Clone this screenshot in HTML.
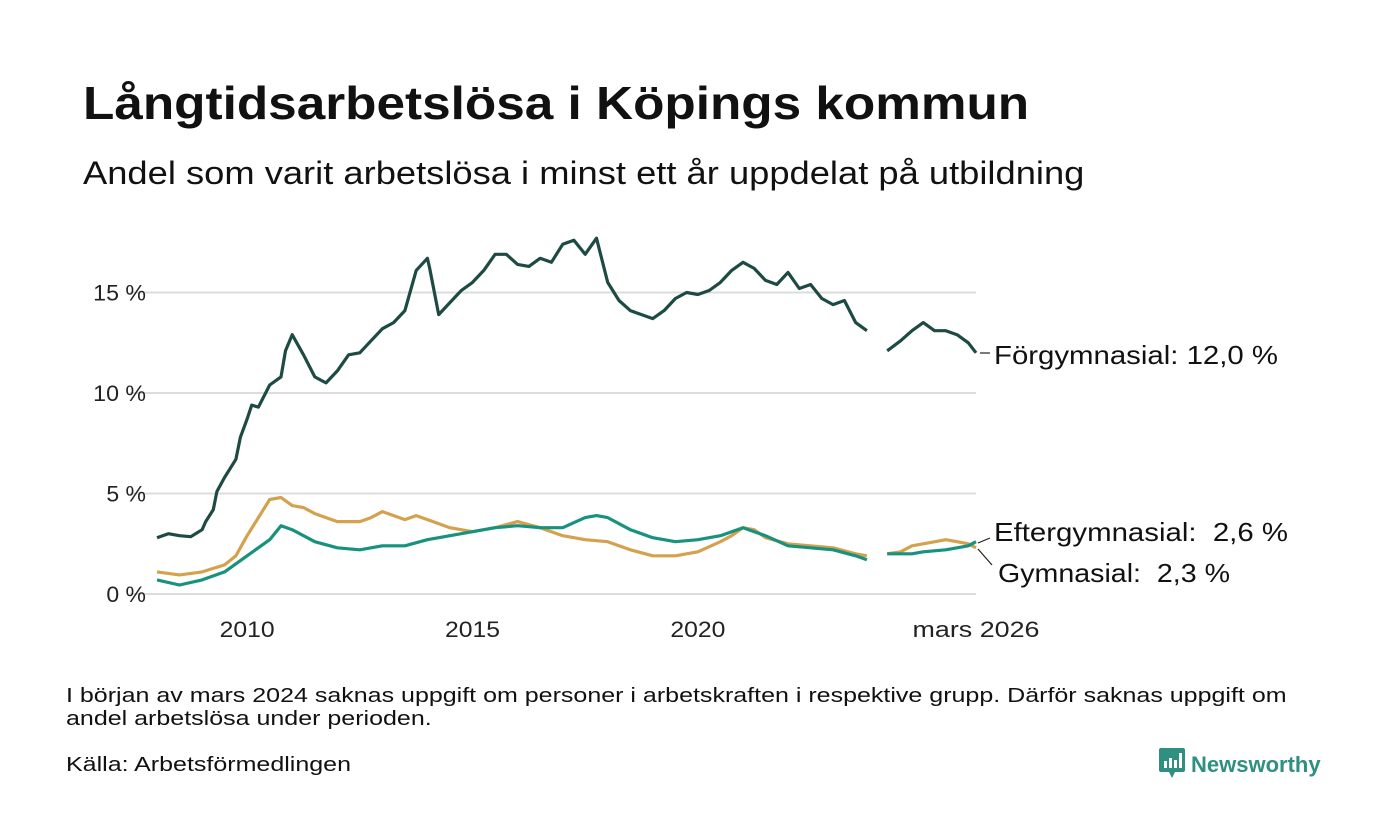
<!DOCTYPE html>
<html><head><meta charset="utf-8"><style>
body{margin:0;background:#fff;font-family:"Liberation Sans","DejaVu Sans",sans-serif;color:#111}
#wrap{position:relative;width:1400px;height:840px;overflow:hidden}
.t{position:absolute;white-space:nowrap;transform-origin:0 0}
</style></head><body><div id="wrap">
<div class="t" style="left:83px;top:76px;font-size:46px;font-weight:bold;transform:scaleX(1.115)">Långtidsarbetslösa i Köpings kommun</div>
<div class="t" style="left:83px;top:155px;font-size:32px;transform:scaleX(1.135)">Andel som varit arbetslösa i minst ett år uppdelat på utbildning</div>
<svg id="chart" width="1400" height="680" style="position:absolute;left:0;top:0"></svg>
<div class="t" style="left:66px;top:684px;font-size:20.5px;line-height:23px;transform:scaleX(1.22)">I början av mars 2024 saknas uppgift om personer i arbetskraften i respektive grupp. Därför saknas uppgift om<br>andel arbetslösa under perioden.</div>
<div class="t" style="left:66px;top:753px;font-size:20.5px;transform:scaleX(1.22)">Källa: Arbetsförmedlingen</div>
<div class="t" style="left:1159px;top:748px;font-size:22px;font-weight:bold;color:#2f8f80">
<svg width="26" height="30" style="vertical-align:-6px;margin-right:6px"><path d="M0 2 Q0 0 2 0 H24 Q26 0 26 2 V22 Q26 24 24 24 H16 L13 30 L10 24 H2 Q0 24 0 22Z" fill="#2f8f80"/><rect x="5" y="13" width="3" height="7" fill="#fff"/><rect x="10" y="10" width="3" height="10" fill="#fff"/><rect x="15" y="12" width="3" height="8" fill="#fff"/><rect x="20" y="5" width="3" height="15" fill="#fff"/></svg>Newsworthy</div>
</div>
<script>
const ticksY=[0,5,10,15];
const ticksYLabels=["0 %","5 %","10 %","15 %"];
const ticksX=[2010,2015,2020,2026.17];
const ticksXLabels=["2010","2015","2020","mars 2026"];
const forgYears=[2008,2008.25,2008.5,2008.75,2009,2009.08,2009.25,2009.33,2009.5,2009.75,2009.85,2010,2010.1,2010.25,2010.5,2010.75,2010.85,2011,2011.25,2011.5,2011.75,2012,2012.25,2012.5,2012.75,2013,2013.25,2013.5,2013.75,2014,2014.05,2014.25,2014.5,2014.75,2015,2015.25,2015.5,2015.75,2016,2016.25,2016.5,2016.75,2017,2017.25,2017.5,2017.75,2018,2018.25,2018.5,2018.75,2019,2019.25,2019.5,2019.75,2020,2020.25,2020.5,2020.75,2021,2021.25,2021.5,2021.75,2022,2022.25,2022.5,2022.75,2023,2023.25,2023.5,2023.75,2023.9,2024.2,2024.5,2024.75,2025,2025.25,2025.5,2025.75,2026,2026.17];
const forgValues=[2.8,3.0,2.9,2.85,3.2,3.6,4.2,5.1,5.8,6.7,7.8,8.7,9.4,9.3,10.4,10.8,12.1,12.9,11.9,10.8,10.5,11.1,11.9,12.0,12.6,13.2,13.5,14.1,16.1,16.7,16.2,13.9,14.5,15.1,15.5,16.1,16.9,16.9,16.4,16.3,16.7,16.5,17.4,17.6,16.9,17.7,15.5,14.6,14.1,13.9,13.7,14.1,14.7,15.0,14.9,15.1,15.5,16.1,16.5,16.2,15.6,15.4,16.0,15.2,15.4,14.7,14.4,14.6,13.5,13.1,null,12.1,12.6,13.1,13.5,13.1,13.1,12.9,12.5,12.0];
const gymYears=[2008,2008.5,2009,2009.5,2009.75,2010,2010.25,2010.5,2010.75,2011,2011.25,2011.5,2011.75,2012,2012.5,2012.75,2013,2013.5,2013.75,2014,2014.5,2015,2015.5,2016,2016.5,2017,2017.5,2018,2018.5,2019,2019.5,2020,2020.5,2020.75,2021,2021.25,2021.5,2022,2022.5,2023,2023.5,2023.75,2023.9,2024.2,2024.5,2024.75,2025,2025.5,2025.75,2026,2026.17];
const gymValues=[1.1,0.95,1.1,1.45,1.9,2.9,3.8,4.7,4.8,4.4,4.3,4.0,3.8,3.6,3.6,3.8,4.1,3.7,3.9,3.7,3.3,3.1,3.3,3.6,3.3,2.9,2.7,2.6,2.2,1.9,1.9,2.1,2.6,2.9,3.3,3.2,2.8,2.5,2.4,2.3,2.0,1.9,null,2.0,2.1,2.4,2.5,2.7,2.6,2.5,2.3];
const eftYears=[2008,2008.5,2009,2009.5,2010,2010.5,2010.75,2011,2011.5,2012,2012.5,2013,2013.5,2014,2014.5,2015,2015.5,2016,2016.5,2017,2017.5,2017.75,2018,2018.5,2019,2019.5,2020,2020.5,2021,2021.5,2022,2022.5,2023,2023.5,2023.75,2023.9,2024.2,2024.75,2025,2025.5,2025.75,2026,2026.17];
const eftValues=[0.7,0.45,0.7,1.1,1.9,2.7,3.4,3.2,2.6,2.3,2.2,2.4,2.4,2.7,2.9,3.1,3.3,3.4,3.3,3.3,3.8,3.9,3.8,3.2,2.8,2.6,2.7,2.9,3.3,2.9,2.4,2.3,2.2,1.9,1.7,null,2.0,2.0,2.1,2.2,2.3,2.4,2.6];
const X0=157,X1=976,XA=2008,XB=2026.17;
const xs=v=>X0+(v-XA)/(XB-XA)*(X1-X0);
const ys=v=>594-v*20.1;
const svg=document.getElementById('chart');
const NS='http://www.w3.org/2000/svg';
function mk(t,a){const e=document.createElementNS(NS,t);for(const k in a)e.setAttribute(k,a[k]);svg.appendChild(e);return e;}
ticksY.forEach((t,i)=>{
 const l=mk('line',{x1:130,x2:976,y1:ys(t),y2:ys(t),stroke:'#dcdcdc','stroke-width':2});
 
 
 const tx=mk('text',{x:146,y:ys(t)+8,'text-anchor':'end','font-size':22,fill:'#222',textLength:ticksYLabels[i].length*13.2,lengthAdjust:'spacingAndGlyphs'});tx.textContent=ticksYLabels[i];
 
 
});
ticksX.forEach((t,i)=>{
 const tx=mk('text',{x:i==3?976:xs(t),y:637,'text-anchor':'middle','font-size':22,fill:'#222',textLength:i==3?127:55,lengthAdjust:'spacingAndGlyphs'});tx.textContent=ticksXLabels[i];
 
 
});
function series(yr,vals,col,name){
 let d='',pen=false;
 yr.forEach((y,i)=>{const v=vals[i];if(v==null){pen=false;return;}d+=(pen?'L':'M')+xs(y).toFixed(1)+' '+ys(v).toFixed(1);pen=true;});
 const p=mk('path',{d:d,fill:'none',stroke:col,'stroke-width':3.2,'stroke-linejoin':'round'});
 
 
}
series(gymYears,gymValues,'#d4a24e','line-gymnasial');
series(eftYears,eftValues,'#17927e','line-eftergymnasial');
series(forgYears,forgValues,'#1e4a44','line-forgymnasial');
function label(txt,x,y,w,lx1,ly1,lx2,ly2,name){
 const l=mk('line',{x1:lx1,y1:ly1,x2:lx2,y2:ly2,stroke:'#222','stroke-width':1.2});
 
 
 const t=mk('text',{x:x,y:y,'font-size':26,fill:'#111',textLength:w,lengthAdjust:'spacingAndGlyphs'});t.textContent=txt;t.style.whiteSpace='pre';
 
 
}
label('Förgymnasial: 12,0 %',994,364,284,980,353,990,353,'label-forgymnasial');
label('Eftergymnasial:  2,6 %',994,541,294,978,543,990,538,'label-eftergymnasial');
label('Gymnasial:  2,3 %',998,582,232,978,549,992,565,'label-gymnasial');
</script>
</body></html>
